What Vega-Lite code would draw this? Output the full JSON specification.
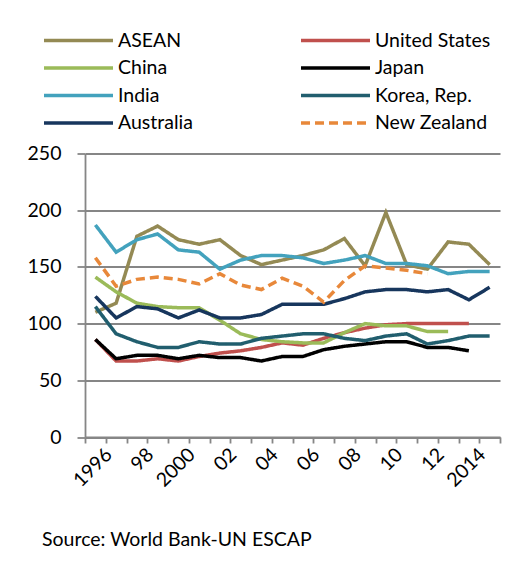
{
  "$schema": "https://vega.github.io/schema/vega-lite/v6.json",
  "width": 415,
  "height": 283.5,
  "autosize": {"type": "none"},
  "padding": {"left": 85, "top": 153.5, "right": 28, "bottom": 136},
  "background": "white",
  "config": {
    "view": {"stroke": null},
    "font": "Lato",
    "legend": {
      "symbolType": "stroke",
      "symbolSize": 4761,
      "symbolStrokeWidth": 3.5,
      "clipHeight": 20,
      "labelFont": "Lato",
      "labelFontSize": 19.5,
      "labelColor": "black",
      "labelOffset": 3,
      "rowPadding": 7.5,
      "columnPadding": 106,
      "labelLimit": 300
    }
  },
  "title": {
    "text": "Source: World Bank-UN ESCAP",
    "orient": "bottom",
    "anchor": "start",
    "frame": "group",
    "dx": -43,
    "offset": 41,
    "font": "Lato",
    "fontSize": 19.5,
    "fontWeight": "normal",
    "color": "black"
  },
  "data": {
    "values": [
      {"country": "ASEAN", "year": 1996, "value": 110},
      {"country": "ASEAN", "year": 1997, "value": 118},
      {"country": "ASEAN", "year": 1998, "value": 177},
      {"country": "ASEAN", "year": 1999, "value": 186},
      {"country": "ASEAN", "year": 2000, "value": 174},
      {"country": "ASEAN", "year": 2001, "value": 170},
      {"country": "ASEAN", "year": 2002, "value": 174},
      {"country": "ASEAN", "year": 2003, "value": 160},
      {"country": "ASEAN", "year": 2004, "value": 152},
      {"country": "ASEAN", "year": 2005, "value": 156},
      {"country": "ASEAN", "year": 2006, "value": 160},
      {"country": "ASEAN", "year": 2007, "value": 165},
      {"country": "ASEAN", "year": 2008, "value": 175},
      {"country": "ASEAN", "year": 2009, "value": 151},
      {"country": "ASEAN", "year": 2010, "value": 198},
      {"country": "ASEAN", "year": 2011, "value": 152},
      {"country": "ASEAN", "year": 2012, "value": 148},
      {"country": "ASEAN", "year": 2013, "value": 172},
      {"country": "ASEAN", "year": 2014, "value": 170},
      {"country": "ASEAN", "year": 2015, "value": 152},
      {"country": "United States", "year": 1996, "value": 86},
      {"country": "United States", "year": 1997, "value": 67},
      {"country": "United States", "year": 1998, "value": 67},
      {"country": "United States", "year": 1999, "value": 69},
      {"country": "United States", "year": 2000, "value": 67},
      {"country": "United States", "year": 2001, "value": 71},
      {"country": "United States", "year": 2002, "value": 74},
      {"country": "United States", "year": 2003, "value": 76},
      {"country": "United States", "year": 2004, "value": 79},
      {"country": "United States", "year": 2005, "value": 83},
      {"country": "United States", "year": 2006, "value": 81},
      {"country": "United States", "year": 2007, "value": 87},
      {"country": "United States", "year": 2008, "value": 92},
      {"country": "United States", "year": 2009, "value": 96},
      {"country": "United States", "year": 2010, "value": 99},
      {"country": "United States", "year": 2011, "value": 100},
      {"country": "United States", "year": 2012, "value": 100},
      {"country": "United States", "year": 2013, "value": 100},
      {"country": "United States", "year": 2014, "value": 100},
      {"country": "China", "year": 1996, "value": 141},
      {"country": "China", "year": 1997, "value": 128},
      {"country": "China", "year": 1998, "value": 118},
      {"country": "China", "year": 1999, "value": 115},
      {"country": "China", "year": 2000, "value": 114},
      {"country": "China", "year": 2001, "value": 114},
      {"country": "China", "year": 2002, "value": 103},
      {"country": "China", "year": 2003, "value": 91},
      {"country": "China", "year": 2004, "value": 86},
      {"country": "China", "year": 2005, "value": 84},
      {"country": "China", "year": 2006, "value": 83},
      {"country": "China", "year": 2007, "value": 83},
      {"country": "China", "year": 2008, "value": 92},
      {"country": "China", "year": 2009, "value": 100},
      {"country": "China", "year": 2010, "value": 98},
      {"country": "China", "year": 2011, "value": 98},
      {"country": "China", "year": 2012, "value": 93},
      {"country": "China", "year": 2013, "value": 93},
      {"country": "Japan", "year": 1996, "value": 86},
      {"country": "Japan", "year": 1997, "value": 69},
      {"country": "Japan", "year": 1998, "value": 72},
      {"country": "Japan", "year": 1999, "value": 72},
      {"country": "Japan", "year": 2000, "value": 69},
      {"country": "Japan", "year": 2001, "value": 72},
      {"country": "Japan", "year": 2002, "value": 70},
      {"country": "Japan", "year": 2003, "value": 70},
      {"country": "Japan", "year": 2004, "value": 67},
      {"country": "Japan", "year": 2005, "value": 71},
      {"country": "Japan", "year": 2006, "value": 71},
      {"country": "Japan", "year": 2007, "value": 77},
      {"country": "Japan", "year": 2008, "value": 80},
      {"country": "Japan", "year": 2009, "value": 82},
      {"country": "Japan", "year": 2010, "value": 84},
      {"country": "Japan", "year": 2011, "value": 84},
      {"country": "Japan", "year": 2012, "value": 79},
      {"country": "Japan", "year": 2013, "value": 79},
      {"country": "Japan", "year": 2014, "value": 76},
      {"country": "India", "year": 1996, "value": 187},
      {"country": "India", "year": 1997, "value": 163},
      {"country": "India", "year": 1998, "value": 174},
      {"country": "India", "year": 1999, "value": 179},
      {"country": "India", "year": 2000, "value": 165},
      {"country": "India", "year": 2001, "value": 163},
      {"country": "India", "year": 2002, "value": 148},
      {"country": "India", "year": 2003, "value": 156},
      {"country": "India", "year": 2004, "value": 160},
      {"country": "India", "year": 2005, "value": 160},
      {"country": "India", "year": 2006, "value": 158},
      {"country": "India", "year": 2007, "value": 153},
      {"country": "India", "year": 2008, "value": 156},
      {"country": "India", "year": 2009, "value": 160},
      {"country": "India", "year": 2010, "value": 153},
      {"country": "India", "year": 2011, "value": 153},
      {"country": "India", "year": 2012, "value": 151},
      {"country": "India", "year": 2013, "value": 144},
      {"country": "India", "year": 2014, "value": 146},
      {"country": "India", "year": 2015, "value": 146},
      {"country": "Korea, Rep.", "year": 1996, "value": 115},
      {"country": "Korea, Rep.", "year": 1997, "value": 91},
      {"country": "Korea, Rep.", "year": 1998, "value": 84},
      {"country": "Korea, Rep.", "year": 1999, "value": 79},
      {"country": "Korea, Rep.", "year": 2000, "value": 79},
      {"country": "Korea, Rep.", "year": 2001, "value": 84},
      {"country": "Korea, Rep.", "year": 2002, "value": 82},
      {"country": "Korea, Rep.", "year": 2003, "value": 82},
      {"country": "Korea, Rep.", "year": 2004, "value": 87},
      {"country": "Korea, Rep.", "year": 2005, "value": 89},
      {"country": "Korea, Rep.", "year": 2006, "value": 91},
      {"country": "Korea, Rep.", "year": 2007, "value": 91},
      {"country": "Korea, Rep.", "year": 2008, "value": 87},
      {"country": "Korea, Rep.", "year": 2009, "value": 85},
      {"country": "Korea, Rep.", "year": 2010, "value": 89},
      {"country": "Korea, Rep.", "year": 2011, "value": 91},
      {"country": "Korea, Rep.", "year": 2012, "value": 82},
      {"country": "Korea, Rep.", "year": 2013, "value": 85},
      {"country": "Korea, Rep.", "year": 2014, "value": 89},
      {"country": "Korea, Rep.", "year": 2015, "value": 89},
      {"country": "Australia", "year": 1996, "value": 124},
      {"country": "Australia", "year": 1997, "value": 105},
      {"country": "Australia", "year": 1998, "value": 115},
      {"country": "Australia", "year": 1999, "value": 113},
      {"country": "Australia", "year": 2000, "value": 105},
      {"country": "Australia", "year": 2001, "value": 112},
      {"country": "Australia", "year": 2002, "value": 105},
      {"country": "Australia", "year": 2003, "value": 105},
      {"country": "Australia", "year": 2004, "value": 108},
      {"country": "Australia", "year": 2005, "value": 117},
      {"country": "Australia", "year": 2006, "value": 117},
      {"country": "Australia", "year": 2007, "value": 117},
      {"country": "Australia", "year": 2008, "value": 122},
      {"country": "Australia", "year": 2009, "value": 128},
      {"country": "Australia", "year": 2010, "value": 130},
      {"country": "Australia", "year": 2011, "value": 130},
      {"country": "Australia", "year": 2012, "value": 128},
      {"country": "Australia", "year": 2013, "value": 130},
      {"country": "Australia", "year": 2014, "value": 121},
      {"country": "Australia", "year": 2015, "value": 132},
      {"country": "New Zealand", "year": 1996, "value": 158},
      {"country": "New Zealand", "year": 1997, "value": 133},
      {"country": "New Zealand", "year": 1998, "value": 139},
      {"country": "New Zealand", "year": 1999, "value": 141},
      {"country": "New Zealand", "year": 2000, "value": 139},
      {"country": "New Zealand", "year": 2001, "value": 135},
      {"country": "New Zealand", "year": 2002, "value": 144},
      {"country": "New Zealand", "year": 2003, "value": 134},
      {"country": "New Zealand", "year": 2004, "value": 130},
      {"country": "New Zealand", "year": 2005, "value": 140},
      {"country": "New Zealand", "year": 2006, "value": 133},
      {"country": "New Zealand", "year": 2007, "value": 119},
      {"country": "New Zealand", "year": 2008, "value": 138},
      {"country": "New Zealand", "year": 2009, "value": 151},
      {"country": "New Zealand", "year": 2010, "value": 149},
      {"country": "New Zealand", "year": 2011, "value": 147},
      {"country": "New Zealand", "year": 2012, "value": 144}
    ]
  },
  "mark": {"type": "line", "strokeWidth": 3.5},
  "encoding": {
    "x": {
      "field": "year",
      "type": "quantitative",
      "scale": {"domain": [1995.5, 2015.5], "nice": false, "zero": false},
      "axis": {
        "title": null,
        "values": [1995.5, 1996.5, 1997.5, 1998.5, 1999.5, 2000.5, 2001.5, 2002.5, 2003.5, 2004.5, 2005.5, 2006.5, 2007.5, 2008.5, 2009.5, 2010.5, 2011.5, 2012.5, 2013.5, 2014.5, 2015.5],
        "labelExpr": "datum.value == 1996.5 ? '1996' : datum.value == 1998.5 ? '98' : datum.value == 2000.5 ? '2000' : datum.value == 2002.5 ? '02' : datum.value == 2004.5 ? '04' : datum.value == 2006.5 ? '06' : datum.value == 2008.5 ? '08' : datum.value == 2010.5 ? '10' : datum.value == 2012.5 ? '12' : datum.value == 2014.5 ? '2014' : ''",
        "labelOffset": -3.5,
        "labelAngle": -45,
        "labelAlign": "right",
        "labelBaseline": "top",
        "labelPadding": 2,
        "labelOverlap": false,
        "labelFlush": false,
        "labelBound": false,
        "labelFont": "Lato",
        "labelFontSize": 19.5,
        "labelColor": "black",
        "grid": false,
        "tickSize": 6,
        "tickColor": "#868686",
        "tickWidth": 1.8,
        "domainColor": "#868686",
        "domainWidth": 1.8
      }
    },
    "y": {
      "field": "value",
      "type": "quantitative",
      "scale": {"domain": [0, 250], "nice": false},
      "axis": {
        "title": null,
        "values": [0, 50, 100, 150, 200, 250],
        "labelFont": "Lato",
        "labelFontSize": 19.5,
        "labelColor": "black",
        "labelPadding": 16,
        "tickSize": 8,
        "tickColor": "#868686",
        "tickWidth": 1.8,
        "domainColor": "#868686",
        "domainWidth": 1.8,
        "grid": true,
        "gridColor": "#868686",
        "gridWidth": 1.8
      }
    },
    "color": {
      "field": "country",
      "type": "nominal",
      "scale": {
        "domain": ["ASEAN", "China", "India", "Australia", "United States", "Japan", "Korea, Rep.", "New Zealand"],
        "range": ["#948A54", "#9BBB59", "#43A2BD", "#17365D", "#C0504D", "#000000", "#215E6E", "#E8883A"]
      },
      "legend": {"title": null, "orient": "none", "legendX": -43, "legendY": -123, "columns": 2}
    },
    "strokeDash": {
      "field": "country",
      "type": "nominal",
      "scale": {
        "domain": ["ASEAN", "China", "India", "Australia", "United States", "Japan", "Korea, Rep.", "New Zealand"],
        "range": [[1, 0], [1, 0], [1, 0], [1, 0], [1, 0], [1, 0], [1, 0], [9, 5]]
      },
      "legend": {"title": null, "orient": "none", "legendX": -43, "legendY": -123, "columns": 2}
    }
  }
}
